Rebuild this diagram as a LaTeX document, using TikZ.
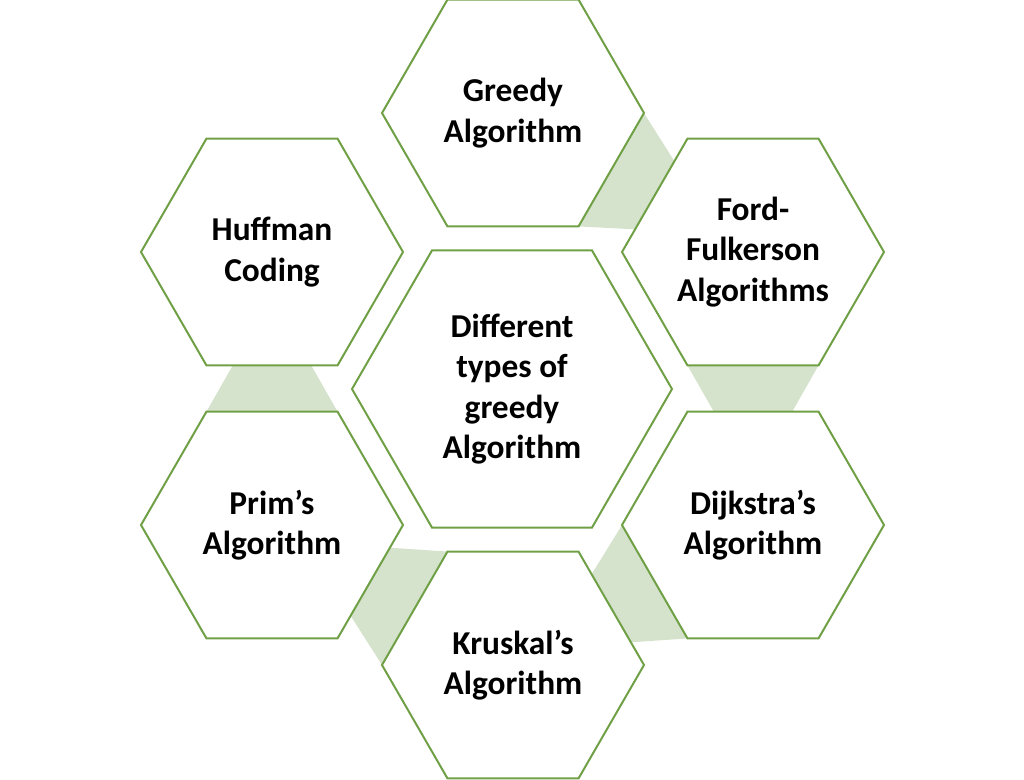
\documentclass[tikz,border=0pt]{standalone}
\usepackage{fontspec}
\setmainfont{Carlito}
\usetikzlibrary{calc}
\definecolor{hexline}{RGB}{112,160,70}
\definecolor{bandfill}{RGB}{213,227,205}
\tikzset{
  hexa/.style={draw=hexline, line width=0.04cm, fill=white, line join=miter},
  band/.style={fill=bandfill},
  label/.style={align=center, font=\bfseries\fontsize{19}{23}\selectfont}
}
% hexagon: name, centre x, centre y, radius, text
\newcommand{\hexa}[5]{%
  \foreach \k in {0,...,5} {\coordinate (#1-\k) at ({#2+#4*cos(60*\k)},{#3-#4*sin(60*\k)});}
  \draw[hexa] (#1-0) -- (#1-1) -- (#1-2) -- (#1-3) -- (#1-4) -- (#1-5) -- cycle;
  \node[label] (#1) at (#2,#3) {#5};
}
\begin{document}
\begin{tikzpicture}[x=0.02cm, y=-0.02cm]
  \useasboundingbox (0,0) rectangle (1024,779);
  % vertex positions first, bands underneath
  \foreach \n/\x/\y in {G/513/113, F/753/252, D/753/525, K/513/665, P/272/525, H/272/252}
    \foreach \k in {0,...,5} {\coordinate (\n-\k) at ({\x+131*cos(60*\k)},{\y-131*sin(60*\k)});}
  \fill[band] (G-0) -- (G-5) -- ($(F-3)!.2!(F-2)$) -- ($(F-2)!.2!(F-3)$) -- cycle;
  \fill[band] (F-4) -- (F-5) -- ($(D-1)!.2!(D-2)$) -- ($(D-2)!.2!(D-1)$) -- cycle;
  \fill[band] (D-3) -- (D-4) -- ($(K-0)!.2!(K-1)$) -- ($(K-1)!.2!(K-0)$) -- cycle;
  \fill[band] (K-2) -- (K-3) -- ($(P-5)!.2!(P-0)$) -- ($(P-0)!.2!(P-5)$) -- cycle;
  \fill[band] (P-1) -- (P-2) -- ($(H-4)!.2!(H-5)$) -- ($(H-5)!.2!(H-4)$) -- cycle;
  % hexagons
  \hexa{G}{513}{113}{131}{Greedy\\Algorithm}
  \hexa{F}{753}{252}{131}{Ford-\\Fulkerson\\Algorithms}
  \hexa{D}{753}{525}{131}{Dijkstra's\\Algorithm}
  \hexa{K}{513}{665}{131}{Kruskal's\\Algorithm}
  \hexa{P}{272}{525}{131}{Prim's\\Algorithm}
  \hexa{H}{272}{252}{131}{Huffman\\Coding}
  \hexa{C}{512}{389}{160}{Different\\types of\\greedy\\Algorithm}
\end{tikzpicture}
\end{document}
